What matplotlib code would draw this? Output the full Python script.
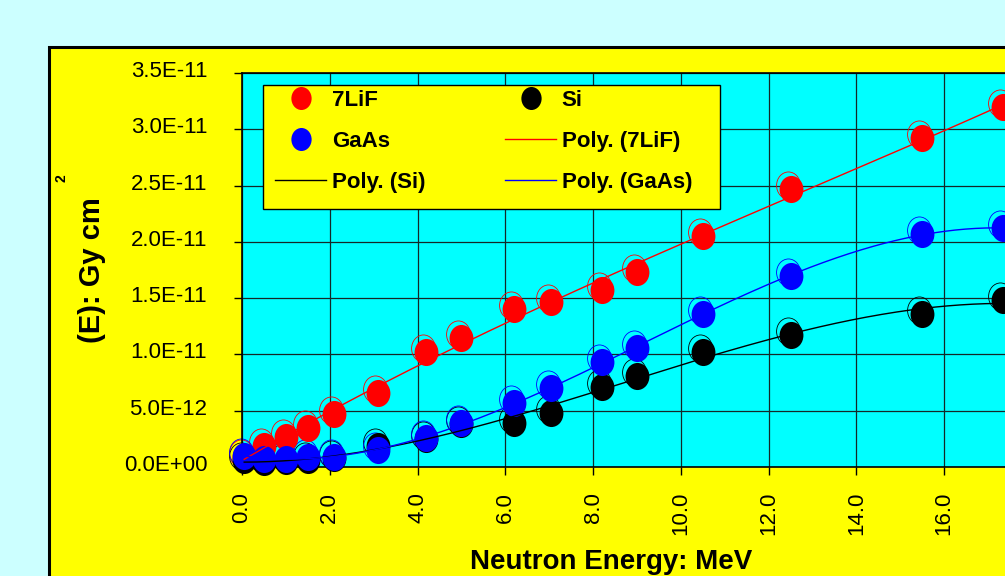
import numpy as np
import matplotlib
matplotlib.use("Agg")
import matplotlib.pyplot as plt
from matplotlib.path import Path
from matplotlib.patches import Rectangle
from matplotlib.transforms import ScaledTranslation

# ── Données ──────────────────────────────────────────────────────────────────
energy = [0.05, 0.5, 1.0, 1.5, 2.1, 3.1, 4.2, 5.0, 6.2, 7.05, 8.2, 9.0,
          10.5, 12.5, 15.5, 17.35]                       # MeV
kerma_lif  = [0.9, 1.9, 2.7, 3.5, 4.7, 6.6, 10.2, 11.5, 14.0, 14.7, 15.7,
              17.3, 20.5, 24.7, 29.2, 32.0]             # x 1e-12
kerma_gaas = [1.0, 0.7, 0.7, 0.9, 0.9, 1.5, 2.6, 3.9, 5.7, 7.0, 9.3, 10.6,
              13.6, 17.0, 20.7, 21.2]
kerma_si   = [0.6, 0.4, 0.5, 0.6, 0.8, 1.9, 2.5, 3.8, 3.9, 4.8, 7.1, 8.1,
              10.2, 11.7, 13.6, 14.8]

xticks = np.arange(0, 17, 2)
xtick_labels = [f"{v:.1f}" for v in xticks]
yticks = np.arange(0, 3.51e-11, 5e-12)
ytick_labels = ["0.0E+00", "5.0E-12", "1.0E-11", "1.5E-11", "2.0E-11",
                "2.5E-11", "3.0E-11", "3.5E-11"]

series = [
    ("7LiF", kerma_lif, "#FF0000"),
    ("Si", kerma_si, "#000000"),
    ("GaAs", kerma_gaas, "#0000FF"),
]

W, H = 1005, 576
fig = plt.figure(figsize=(W / 100, H / 100), dpi=100, facecolor="#CCFFFF")

# cadre jaune
fig.add_artist(Rectangle((48.5 / W, -0.1), 1.2, 1 - 46.5 / H + 0.1,
                         transform=fig.transFigure, facecolor="#FFFF00",
                         edgecolor="black", linewidth=2.2, zorder=0))

ax = fig.add_axes([242 / W, 1 - 467 / H, 790 / W, 394 / H])
ax.set_facecolor("#00FFFF")
ax.set_xlim(0, 18)
ax.set_ylim(0, 3.5e-11)

tick_font = {"family": "Liberation Sans", "size": 16}
ax.set_xticks(xticks)
ax.set_xticklabels(xtick_labels, rotation=90, fontdict=tick_font)
ax.set_yticks(yticks)
ax.set_yticklabels(ytick_labels, fontdict=tick_font)
ax.tick_params(axis="both", direction="out", length=6, width=1, color="black")
ax.tick_params(axis="y", pad=19)
ax.tick_params(axis="x", pad=12)
for lbl in ax.get_yticklabels():
    lbl.set_transform(lbl.get_transform()
                      + ScaledTranslation(0, 0.04, fig.dpi_scale_trans))

ax.grid(True, color="#142828", linewidth=0.9)
ax.set_axisbelow(True)
for sp in ax.spines.values():
    sp.set_color("black")
    sp.set_linewidth(1.2)

# marqueur elliptique
circ = Path.unit_circle()
ellipse = Path(circ.vertices * [0.88, 1.0], circ.codes)

x = np.array(energy)
shift = ax.transData + ScaledTranslation(-0.03, 0.04, fig.dpi_scale_trans)
marker_h = {}
line_h = {}
for name, vals, col in series:
    y = np.array(vals) * 1e-12
    ax.plot(x, y, linestyle="none", marker=ellipse, markersize=19.5,
            markerfacecolor="none", markeredgecolor=col, markeredgewidth=0.6,
            transform=shift, zorder=2, clip_on=False)
    marker_h[name], = ax.plot(x, y, linestyle="none", marker=ellipse,
                              markersize=19.5, color=col, markeredgewidth=0,
                              zorder=3, clip_on=False)

# tendances polynomiales
for name, vals, col in series:
    y = np.array(vals) * 1e-12
    coef = np.polyfit(x, y, 3)
    xf = np.linspace(x[0], x[-1], 300)
    line_h[name], = ax.plot(xf, np.polyval(coef, xf), color=col,
                            linewidth=1.0, zorder=4)

# légende
fig.add_artist(Rectangle((263 / W, 1 - 209 / H), 457 / W, 124 / H,
                         transform=fig.transFigure, facecolor="#FFFF00",
                         edgecolor="black", linewidth=1.0, zorder=5))
handles = [marker_h["7LiF"], marker_h["GaAs"], line_h["Si"],
           marker_h["Si"], line_h["7LiF"], line_h["GaAs"]]
labels = ["7LiF", "GaAs", "Poly. (Si)", "Si", "Poly. (7LiF)", "Poly. (GaAs)"]
leg = fig.legend(handles, labels, ncol=2, loc="upper left",
                 bbox_to_anchor=(275 / W, 1 - 90 / H),
                 bbox_transform=fig.transFigure, frameon=False,
                 borderpad=0, borderaxespad=0, handlelength=2.3,
                 handletextpad=0.25, columnspacing=3.6, labelspacing=0.9,
                 markerscale=0.85,
                 prop={"family": "Liberation Sans", "weight": "bold",
                       "size": 16})
leg.set_zorder(6)

# titres des axes
fig.text(92 / W, 1 - 270 / H, "(E): Gy cm", rotation=90, ha="center",
         va="center", fontsize=21, fontweight="bold",
         family="Liberation Sans")
fig.text(62 / W, 1 - 178 / H, "2", rotation=90, ha="center", va="center",
         fontsize=10, fontweight="bold", family="Liberation Sans")
fig.text(611 / W, 1 - 549 / H, "Neutron Energy: MeV", ha="center", va="top",
         fontsize=20, fontweight="bold", family="Liberation Sans")

fig.savefig("out.png", dpi=100, facecolor=fig.get_facecolor())
